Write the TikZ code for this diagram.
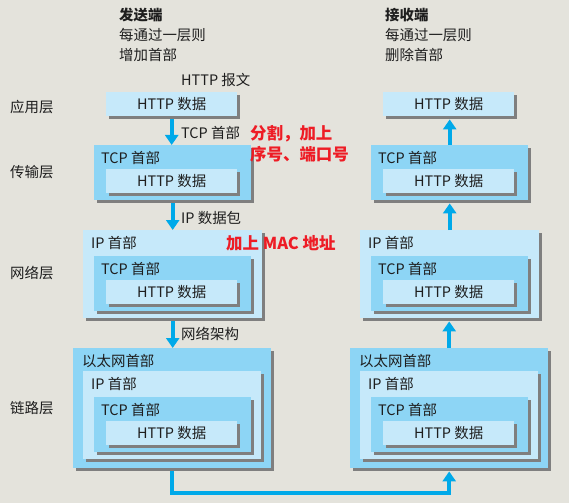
\documentclass[tikz,border=0pt]{standalone}
\usepackage{fontspec}
\setmainfont{Noto Sans CJK SC}
\usetikzlibrary{arrows.meta,shadows}
\definecolor{pagebg}{HTML}{E4E3DC}
\definecolor{litebox}{HTML}{C6E9FA}
\definecolor{deepbox}{HTML}{8DD5F5}
\definecolor{shade}{HTML}{7F7F7F}
\definecolor{pipe}{HTML}{00A9E9}
\definecolor{redmark}{HTML}{EE1C25}
\definecolor{ink}{HTML}{1E1E1E}
\tikzset{
  pkt/.style={anchor=north west, inner sep=0,
    drop shadow={shadow xshift=3bp, shadow yshift=-3bp, fill=shade, opacity=1}},
  http/.style={pkt, fill=litebox, minimum width=131bp, minimum height=24bp},
  tcp/.style={pkt, fill=deepbox, minimum width=157bp, minimum height=55bp},
  ipbox/.style={pkt, fill=litebox, minimum width=179bp, minimum height=88bp},
  ether/.style={pkt, fill=deepbox, minimum width=198bp, minimum height=120bp},
  txt/.style={font=\fontsize{14.5}{16}\selectfont, text=ink, inner sep=0, anchor=west},
  note/.style={font=\fontsize{16.5}{21}\selectfont\bfseries, text=redmark, inner sep=0,
    anchor=west, align=left},
  flow/.style={draw=pipe, line width=4bp, -{Triangle[width=13bp,length=10bp]}}
}
\begin{document}
\begin{tikzpicture}[x=1bp, y=-1bp]
  \fill[pagebg] (0,0) rectangle (569,503);
  \useasboundingbox (0,0) rectangle (569,503);

  % headings
  \node[txt, align=left, font=\fontsize{14.5}{20}\selectfont] (send) at (119,35)
    {\textbf{发送端}\\每通过一层则\\增加首部};
  \node[txt, align=left, font=\fontsize{14.5}{20}\selectfont] (recv) at (385,35)
    {\textbf{接收端}\\每通过一层则\\删除首部};
  \node[txt] (app) at (10,107) {应用层};
  \node[txt] (trn) at (10,172) {传输层};
  \node[txt] (net) at (10,273) {网络层};
  \node[txt] (lnk) at (10,408) {链路层};
  \node[txt] (msg) at (181,80) {HTTP 报文};

  % sender
  \node[http] (lA) at (106,92) {};
  \node[txt, anchor=center] (lAt) at (lA.center) {HTTP 数据};

  \node[tcp] (lT) at (94,145) {};
  \node[txt] (lTt) at ([xshift=7bp, yshift=-13bp]lT.north west) {TCP 首部};
  \node[http] (lTH) at (106,169) {};
  \node[txt, anchor=center] (lTHt) at (lTH.center) {HTTP 数据};

  \node[ipbox] (lI) at (83,230) {};
  \node[txt] (lIt) at ([xshift=8bp, yshift=-13bp]lI.north west) {IP 首部};
  \node[tcp] (lIT) at (94,256) {};
  \node[txt] (lITt) at ([xshift=7bp, yshift=-13bp]lIT.north west) {TCP 首部};
  \node[http] (lIH) at (106,280) {};
  \node[txt, anchor=center] (lIHt) at (lIH.center) {HTTP 数据};

  \node[ether] (lE) at (73,348) {};
  \node[txt] (lEt) at ([xshift=9bp, yshift=-13bp]lE.north west) {以太网首部};
  \node[ipbox, minimum width=178bp] (lEI) at (83,371) {};
  \node[txt] (lEIt) at ([xshift=8bp, yshift=-13bp]lEI.north west) {IP 首部};
  \node[tcp] (lET) at (94,397) {};
  \node[txt] (lETt) at ([xshift=7bp, yshift=-13bp]lET.north west) {TCP 首部};
  \node[http] (lEH) at (106,421) {};
  \node[txt, anchor=center] (lEHt) at (lEH.center) {HTTP 数据};

  % receiver
  \node[http] (rA) at (383,92) {};
  \node[txt, anchor=center] (rAt) at (rA.center) {HTTP 数据};

  \node[tcp] (rT) at (371,145) {};
  \node[txt] (rTt) at ([xshift=7bp, yshift=-13bp]rT.north west) {TCP 首部};
  \node[http] (rTH) at (383,169) {};
  \node[txt, anchor=center] (rTHt) at (rTH.center) {HTTP 数据};

  \node[ipbox] (rI) at (360,230) {};
  \node[txt] (rIt) at ([xshift=8bp, yshift=-13bp]rI.north west) {IP 首部};
  \node[tcp] (rIT) at (371,256) {};
  \node[txt] (rITt) at ([xshift=7bp, yshift=-13bp]rIT.north west) {TCP 首部};
  \node[http] (rIH) at (383,280) {};
  \node[txt, anchor=center] (rIHt) at (rIH.center) {HTTP 数据};

  \node[ether] (rE) at (350,348) {};
  \node[txt] (rEt) at ([xshift=9bp, yshift=-13bp]rE.north west) {以太网首部};
  \node[ipbox, minimum width=178bp] (rEI) at (360,371) {};
  \node[txt] (rEIt) at ([xshift=8bp, yshift=-13bp]rEI.north west) {IP 首部};
  \node[tcp] (rET) at (371,397) {};
  \node[txt] (rETt) at ([xshift=7bp, yshift=-13bp]rET.north west) {TCP 首部};
  \node[http] (rEH) at (383,421) {};
  \node[txt, anchor=center] (rEHt) at (rEH.center) {HTTP 数据};

  % arrow labels and notes
  \node[txt] (s1) at (181,133) {TCP 首部};
  \node[txt] (s2) at (181,218) {IP 数据包};
  \node[txt] (s3) at (181,334) {网络架构};
  \node[note] (n1) at (250,143.5) {分割，加上\\序号、端口号};
  \node[note] (n2) at (226,243) {加上 MAC 地址};

  % flow
  \draw[flow] ([yshift=-3bp]lA.south) -- (lA.south |- lT.north);
  \draw[flow] ([yshift=-3bp]lT.south) -- (lT.south |- lI.north);
  \draw[flow] ([yshift=-3bp]lI.south) -- (lI.south |- lE.north);
  \draw[flow] ([yshift=-3bp]lE.south) -- ++(0,22) -| ([yshift=-3bp]rE.south);
  \draw[flow] (rE.north) -- ([yshift=-3bp]rE.north |- rI.south);
  \draw[flow] (rI.north) -- ([yshift=-3bp]rI.north |- rT.south);
  \draw[flow] (rT.north) -- ([yshift=-3bp]rT.north |- rA.south);
\end{tikzpicture}
\end{document}
